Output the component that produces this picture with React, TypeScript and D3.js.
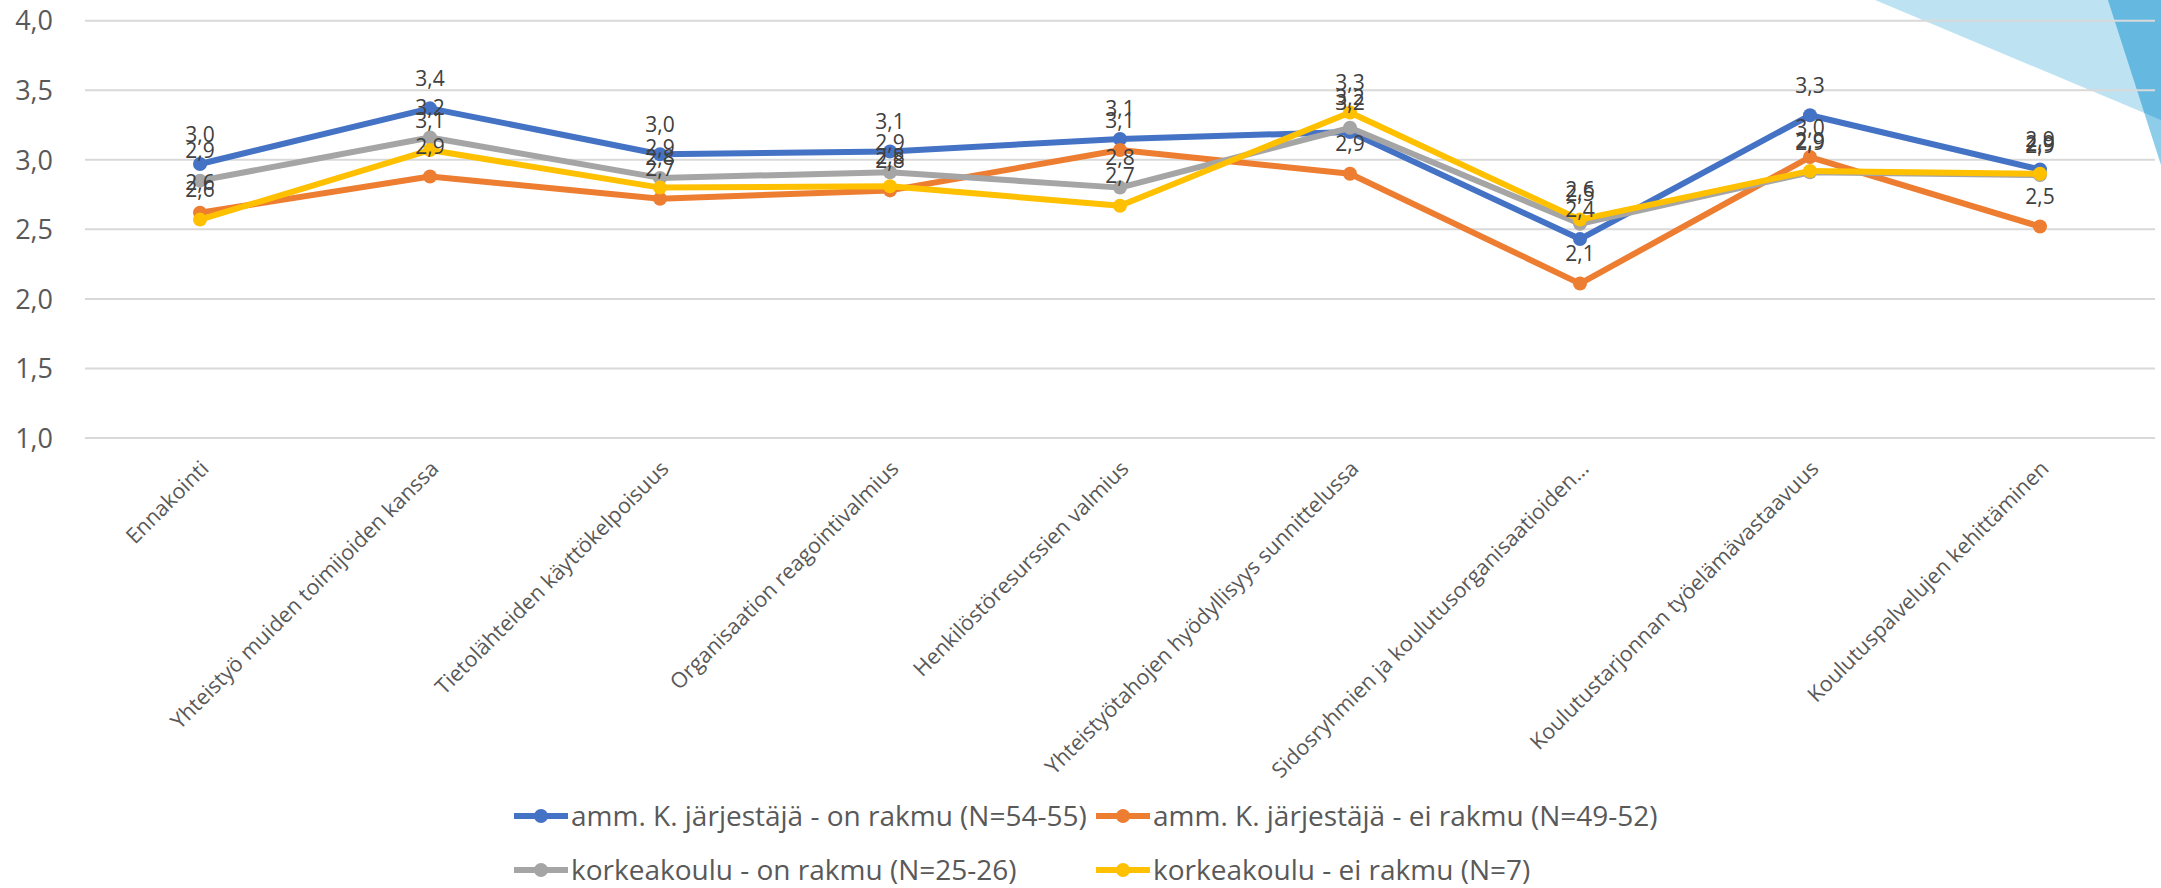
import React from "react";
import * as d3 from "d3";

const categories = [
  "Ennakointi",
  "Yhteistyö muiden toimijoiden kanssa",
  "Tietolähteiden käyttökelpoisuus",
  "Organisaation reagointivalmius",
  "Henkilöstöresurssien valmius",
  "Yhteistyötahojen hyödyllisyys sunnittelussa",
  "Sidosryhmien ja koulutusorganisaatioiden…",
  "Koulutustarjonnan työelämävastaavuus",
  "Koulutuspalvelujen kehittäminen",
];

const seriesNames = [
  "amm. K. järjestäjä - on rakmu (N=54-55)",
  "amm. K. järjestäjä - ei rakmu (N=49-52)",
  "korkeakoulu - on rakmu (N=25-26)",
  "korkeakoulu - ei rakmu (N=7)",
];

const ammOnRakmu = [2.97, 3.37, 3.04, 3.06, 3.15, 3.2, 2.43, 3.32, 2.93];
const ammEiRakmu = [2.62, 2.88, 2.72, 2.78, 3.07, 2.9, 2.11, 3.02, 2.52];
const kkOnRakmu = [2.85, 3.16, 2.87, 2.91, 2.8, 3.23, 2.54, 2.91, 2.89];
const kkEiRakmu = [2.57, 3.07, 2.8, 2.81, 2.67, 3.34, 2.57, 2.92, 2.9];

const yTicks = [1, 1.5, 2, 2.5, 3, 3.5, 4];

const colors = ["#4472C4", "#ED7D31", "#A5A5A5", "#FFC000"];

const W = 2161;
const H = 888;
const FONT = "'Open Sans', 'Noto Sans', sans-serif";

const fmt = (v: number) => d3.format(".1f")(v).replace(".", ",");

export default function App() {
  const allSeries = [ammOnRakmu, ammEiRakmu, kkOnRakmu, kkEiRakmu];

  const x = d3.scaleBand().domain(categories).range([85, 2155]);
  const cx = (c: string) => (x(c) ?? 0) + x.bandwidth() / 2;
  const y = d3.scaleLinear().domain([1, 4]).range([438, 20.7]);

  const line = d3
    .line<number>()
    .x((d, i) => cx(categories[i]))
    .y((d) => y(d));

  // legend slots: two columns, two rows
  const legendPos = [
    [514, 816],
    [1096, 816],
    [514, 870],
    [1096, 870],
  ];

  return (
    <svg
      width={W}
      height={H}
      style={{ position: "absolute", left: 0, top: 0, display: "block", background: "#fff" }}
      fontFamily={FONT}
    >
      {/* decorative corner shapes */}
      <polygon points="1875,0 2161,0 2161,120" fill="#BDE3F2" />
      <polygon points="2108,0 2161,0 2161,165" fill="#8DCDEA" />
      <polygon points="2108,0 2161,0 2161,120 2144.5,113" fill="#65B9E0" />

      {/* gridlines + y labels */}
      {yTicks.map((t) => (
        <g key={t}>
          <line x1={85} x2={2155} y1={y(t)} y2={y(t)} stroke="#D9D9D9" strokeWidth={2} />
          <text x={53} y={y(t)} dy="0.36em" textAnchor="end" fontSize={27} fill="#595959">
            {fmt(t)}
          </text>
        </g>
      ))}

      {/* category labels */}
      {categories.map((c) => (
        <text
          key={c}
          transform={`translate(${cx(c) + 10},${470}) rotate(-45)`}
          textAnchor="end"
          fontSize={21.5}
          fill="#595959"
        >
          {c}
        </text>
      ))}

      {/* lines */}
      {allSeries.map((s, k) => (
        <g key={k}>
          <path d={line(s) ?? ""} fill="none" stroke={colors[k]} strokeWidth={6} strokeLinejoin="round" />
          {s.map((v, i) => (
            <circle key={i} cx={cx(categories[i])} cy={y(v)} r={7} fill={colors[k]} />
          ))}
        </g>
      ))}

      {/* data labels */}
      {allSeries.map((s, k) => (
        <g key={k}>
          {s.map((v, i) => (
            <text
              key={i}
              x={cx(categories[i])}
              y={y(v) - 30}
              dy="0.36em"
              textAnchor="middle"
              fontSize={21}
              fill="#404040"
            >
              {fmt(v)}
            </text>
          ))}
        </g>
      ))}

      {/* legend */}
      {seriesNames.map((n, k) => {
        const [lx, ly] = legendPos[k];
        return (
          <g key={n}>
            <line x1={lx} x2={lx + 54} y1={ly} y2={ly} stroke={colors[k]} strokeWidth={6} />
            <circle cx={lx + 27} cy={ly} r={7} fill={colors[k]} />
            <text x={lx + 57} y={ly} dy="0.36em" fontSize={28} fill="#595959">
              {n}
            </text>
          </g>
        );
      })}
    </svg>
  );
}
